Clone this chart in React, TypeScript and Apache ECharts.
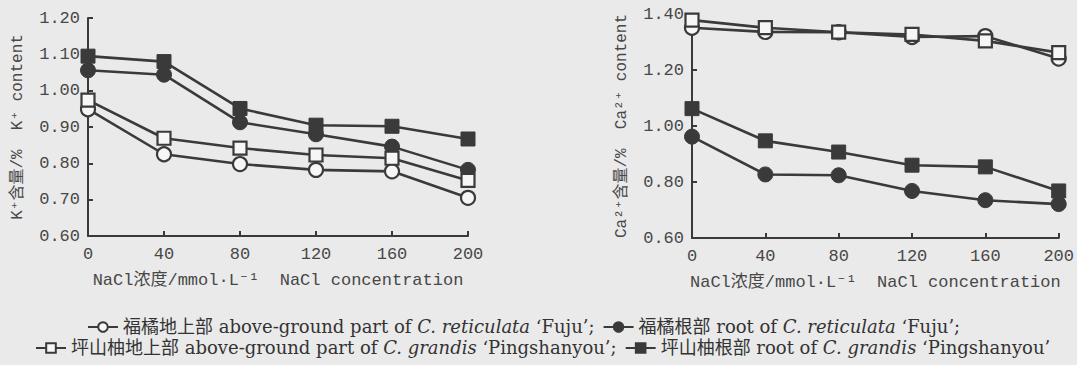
import React, { useEffect, useRef } from 'react';
import * as echarts from 'echarts';

// NaCl concentration (mmol/L)
const nacl = [0, 40, 80, 120, 160, 200];

const seriesNames = ['福橘地上部', '福橘根部', '坪山柚地上部', '坪山柚根部'];

// K+ content (%)
const kFujuShoot = [0.949, 0.825, 0.798, 0.782, 0.778, 0.705];
const kFujuRoot = [1.056, 1.044, 0.913, 0.88, 0.846, 0.782];
const kPingShoot = [0.974, 0.869, 0.842, 0.823, 0.814, 0.753];
const kPingRoot = [1.095, 1.08, 0.951, 0.905, 0.902, 0.867];

// Ca2+ content (%)
const caFujuShoot = [1.351, 1.336, 1.335, 1.318, 1.321, 1.241];
const caFujuRoot = [0.962, 0.827, 0.824, 0.768, 0.735, 0.721];
const caPingShoot = [1.378, 1.351, 1.335, 1.327, 1.304, 1.262];
const caPingRoot = [1.062, 0.947, 0.907, 0.86, 0.854, 0.768];

const legendParts: Record<string, [string, string, string]> = {
  '福橘地上部': ['福橘地上部 above-ground part of ', 'C. reticulata', ' ‘Fuju’;'],
  '福橘根部': ['福橘根部 root of ', 'C. reticulata', ' ‘Fuju’;'],
  '坪山柚地上部': ['坪山柚地上部 above-ground part of ', 'C. grandis', ' ‘Pingshanyou’;'],
  '坪山柚根部': ['坪山柚根部 root of ', 'C. grandis', ' ‘Pingshanyou’'],
};

const DARK = '#3a3a3a';
const OPEN_FILL = '#f6f6f6';
const AXIS_FONT = "'Liberation Mono', 'Noto Sans CJK SC', monospace";
const TEXT_COLOR = '#474747';
const LEGEND_FONT = "'DejaVu Serif', 'Noto Sans CJK SC', serif";
const LEGEND_SIZE = 18;

const symbolStyles = [
  { symbol: 'circle', symbolSize: 14, itemStyle: { color: OPEN_FILL, borderColor: DARK, borderWidth: 2.2 } },
  { symbol: 'circle', symbolSize: 15, itemStyle: { color: DARK, borderColor: DARK, borderWidth: 1 } },
  { symbol: 'rect', symbolSize: 13, itemStyle: { color: OPEN_FILL, borderColor: DARK, borderWidth: 2.2 } },
  { symbol: 'rect', symbolSize: 14, itemStyle: { color: DARK, borderColor: DARK, borderWidth: 1 } },
];

function makeXAxis(gridIndex: number) {
  return {
    gridIndex,
    type: 'value',
    min: 0,
    max: 200,
    interval: 40,
    name: 'NaCl浓度/mmol·L⁻¹  NaCl concentration',
    nameLocation: 'middle',
    nameGap: 36,
    nameTextStyle: { fontFamily: AXIS_FONT, fontSize: 17, color: TEXT_COLOR },
    axisLine: { show: true, lineStyle: { color: DARK, width: 2 } },
    axisTick: { show: true, inside: true, length: 5, lineStyle: { color: DARK, width: 2 } },
    axisLabel: { fontFamily: AXIS_FONT, fontSize: 17, color: TEXT_COLOR, margin: 10 },
    splitLine: { show: false },
  };
}

function makeYAxis(gridIndex: number, min: number, max: number, interval: number, name: string) {
  return {
    gridIndex,
    type: 'value',
    min,
    max,
    interval,
    name,
    nameLocation: 'middle',
    nameGap: 62,
    nameTextStyle: { fontFamily: AXIS_FONT, fontSize: 16, color: TEXT_COLOR },
    axisLine: { show: true, lineStyle: { color: DARK, width: 2 } },
    axisTick: { show: true, inside: true, length: 5, lineStyle: { color: DARK, width: 2 } },
    axisLabel: {
      fontFamily: AXIS_FONT,
      fontSize: 17,
      color: TEXT_COLOR,
      margin: 8,
      formatter: (v: number) => v.toFixed(2),
    },
    splitLine: { show: false },
  };
}

function makeSeries(idx: number, data: number[], axisIndex: number) {
  const s = symbolStyles[idx];
  return {
    name: seriesNames[idx],
    type: 'line',
    xAxisIndex: axisIndex,
    yAxisIndex: axisIndex,
    data: nacl.map((x, i) => [x, data[i]]),
    symbol: s.symbol,
    symbolSize: s.symbolSize,
    itemStyle: s.itemStyle,
    lineStyle: { color: DARK, width: 2.6 },
    z: 2 + idx,
  };
}

const legendTextStyle = {
  fontFamily: LEGEND_FONT,
  fontSize: LEGEND_SIZE,
  color: '#333',
  rich: {
    n: { fontFamily: LEGEND_FONT, fontSize: LEGEND_SIZE, color: '#333' },
    i: { fontFamily: LEGEND_FONT, fontSize: LEGEND_SIZE, fontStyle: 'italic', color: '#333' },
  },
};

const legendFormatter = (name: string) => {
  const p = legendParts[name];
  return `{n|${p[0]}}{i|${p[1]}}{n|${p[2]}}`;
};

export default function App() {
  const ref = useRef<HTMLDivElement>(null);
  useEffect(() => {
    if (!ref.current) return;
    const chart = echarts.init(ref.current, null, { renderer: 'svg' });
    chart.setOption({
      animation: false,
      backgroundColor: '#eaeaea',
      grid: [
        { left: 88, top: 18, width: 380, height: 218 },
        { left: 692, top: 14, width: 368, height: 224 },
      ],
      xAxis: [makeXAxis(0), makeXAxis(1)],
      yAxis: [
        makeYAxis(0, 0.6, 1.2, 0.1, 'K⁺含量/%  K⁺ content'),
        makeYAxis(1, 0.6, 1.4, 0.2, 'Ca²⁺含量/%  Ca²⁺ content'),
      ],
      legend: [
        {
          data: [seriesNames[0], seriesNames[1]],
          left: 82,
          top: 313,
          itemWidth: 30,
          itemHeight: 12,
          itemGap: 8,
          formatter: legendFormatter,
          textStyle: legendTextStyle,
          selectedMode: false,
        },
        {
          data: [seriesNames[2], seriesNames[3]],
          left: 30,
          top: 334,
          itemWidth: 30,
          itemHeight: 12,
          itemGap: 8,
          formatter: legendFormatter,
          textStyle: legendTextStyle,
          selectedMode: false,
        },
      ],
      series: [
        makeSeries(0, kFujuShoot, 0),
        makeSeries(1, kFujuRoot, 0),
        makeSeries(2, kPingShoot, 0),
        makeSeries(3, kPingRoot, 0),
        makeSeries(0, caFujuShoot, 1),
        makeSeries(1, caFujuRoot, 1),
        makeSeries(2, caPingShoot, 1),
        makeSeries(3, caPingRoot, 1),
      ],
    });
    return () => chart.dispose();
  }, []);
  return (
    <div
      ref={ref}
      style={{ position: 'absolute', left: 0, top: 0, width: 1077, height: 365 }}
    />
  );
}
